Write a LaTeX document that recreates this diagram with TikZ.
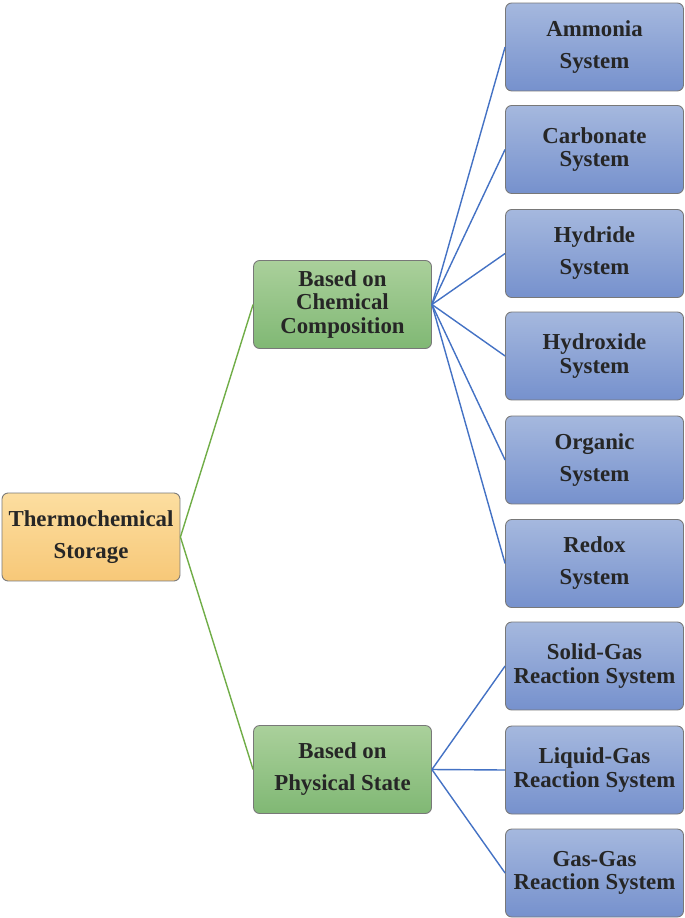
\documentclass[tikz,border=0pt]{standalone}
\usepackage{fontspec}
\setmainfont{Liberation Serif}[BoldFont={Liberation Serif Bold}]
\usepackage{tikz}
\usetikzlibrary{positioning}

\definecolor{rootTop}{RGB}{252,222,160}
\definecolor{rootBot}{RGB}{247,200,120}
\definecolor{midTop}{RGB}{170,208,155}
\definecolor{midBot}{RGB}{128,184,116}
\definecolor{leafTop}{RGB}{165,184,222}
\definecolor{leafBot}{RGB}{118,145,205}
\definecolor{boxLine}{RGB}{120,120,120}
\definecolor{greenLine}{RGB}{112,173,71}
\definecolor{blueLine}{RGB}{68,114,196}

\tikzset{
	box/.style={draw=boxLine, line width=0.5pt, rounded corners=3.5pt,
		minimum width=3.56cm, minimum height=1.76cm, align=center,
		font=\fontsize{13}{13.2}\selectfont\bfseries, text=black!85},
	rootbox/.style={box, top color=rootTop, bottom color=rootBot},
	midbox/.style={box, top color=midTop, bottom color=midBot},
	leafbox/.style={box, top color=leafTop, bottom color=leafBot},
}

\begin{document}
\begin{tikzpicture}[x=0.02cm, y=-0.02cm]
		\useasboundingbox (0,0) rectangle (685,918);
		% main nodes
		\node[rootbox] (storage) at (91,537) {Thermochemical\\[5pt]Storage};
		\node[midbox] (chem) at (342.5,304.5) {Based on\\Chemical\\Composition};
		\node[midbox] (phys) at (342.5,769.5) {Based on\\[5pt]Physical State};
		\draw[greenLine, line width=0.8pt] (storage.east) -- (chem.west);
		\draw[greenLine, line width=0.8pt] (storage.east) -- (phys.west);
		% leaves
		\foreach \y/\name/\txt in {47/amm/Ammonia\\[5pt]System,
				149.5/carb/Carbonate\\System,
				253.5/hydr/Hydride\\[5pt]System,
				356/hydrox/Hydroxide\\System,
				460/org/Organic\\[5pt]System,
				563.5/redox/Redox\\[5pt]System}{
			\node[leafbox] (\name) at (594.5,\y) {\txt};
			\draw[blueLine, line width=0.8pt] (chem.east) -- (\name.west);
		}
		\foreach \y/\name/\txt in {666/solid/Solid-Gas\\Reaction System,
				770/liquid/Liquid-Gas\\Reaction System,
				873/gas/Gas-Gas\\Reaction System}{
			\node[leafbox] (\name) at (594.5,\y) {\txt};
			\draw[blueLine, line width=0.8pt] (phys.east) -- (\name.west);
		}
\end{tikzpicture}
\end{document}
